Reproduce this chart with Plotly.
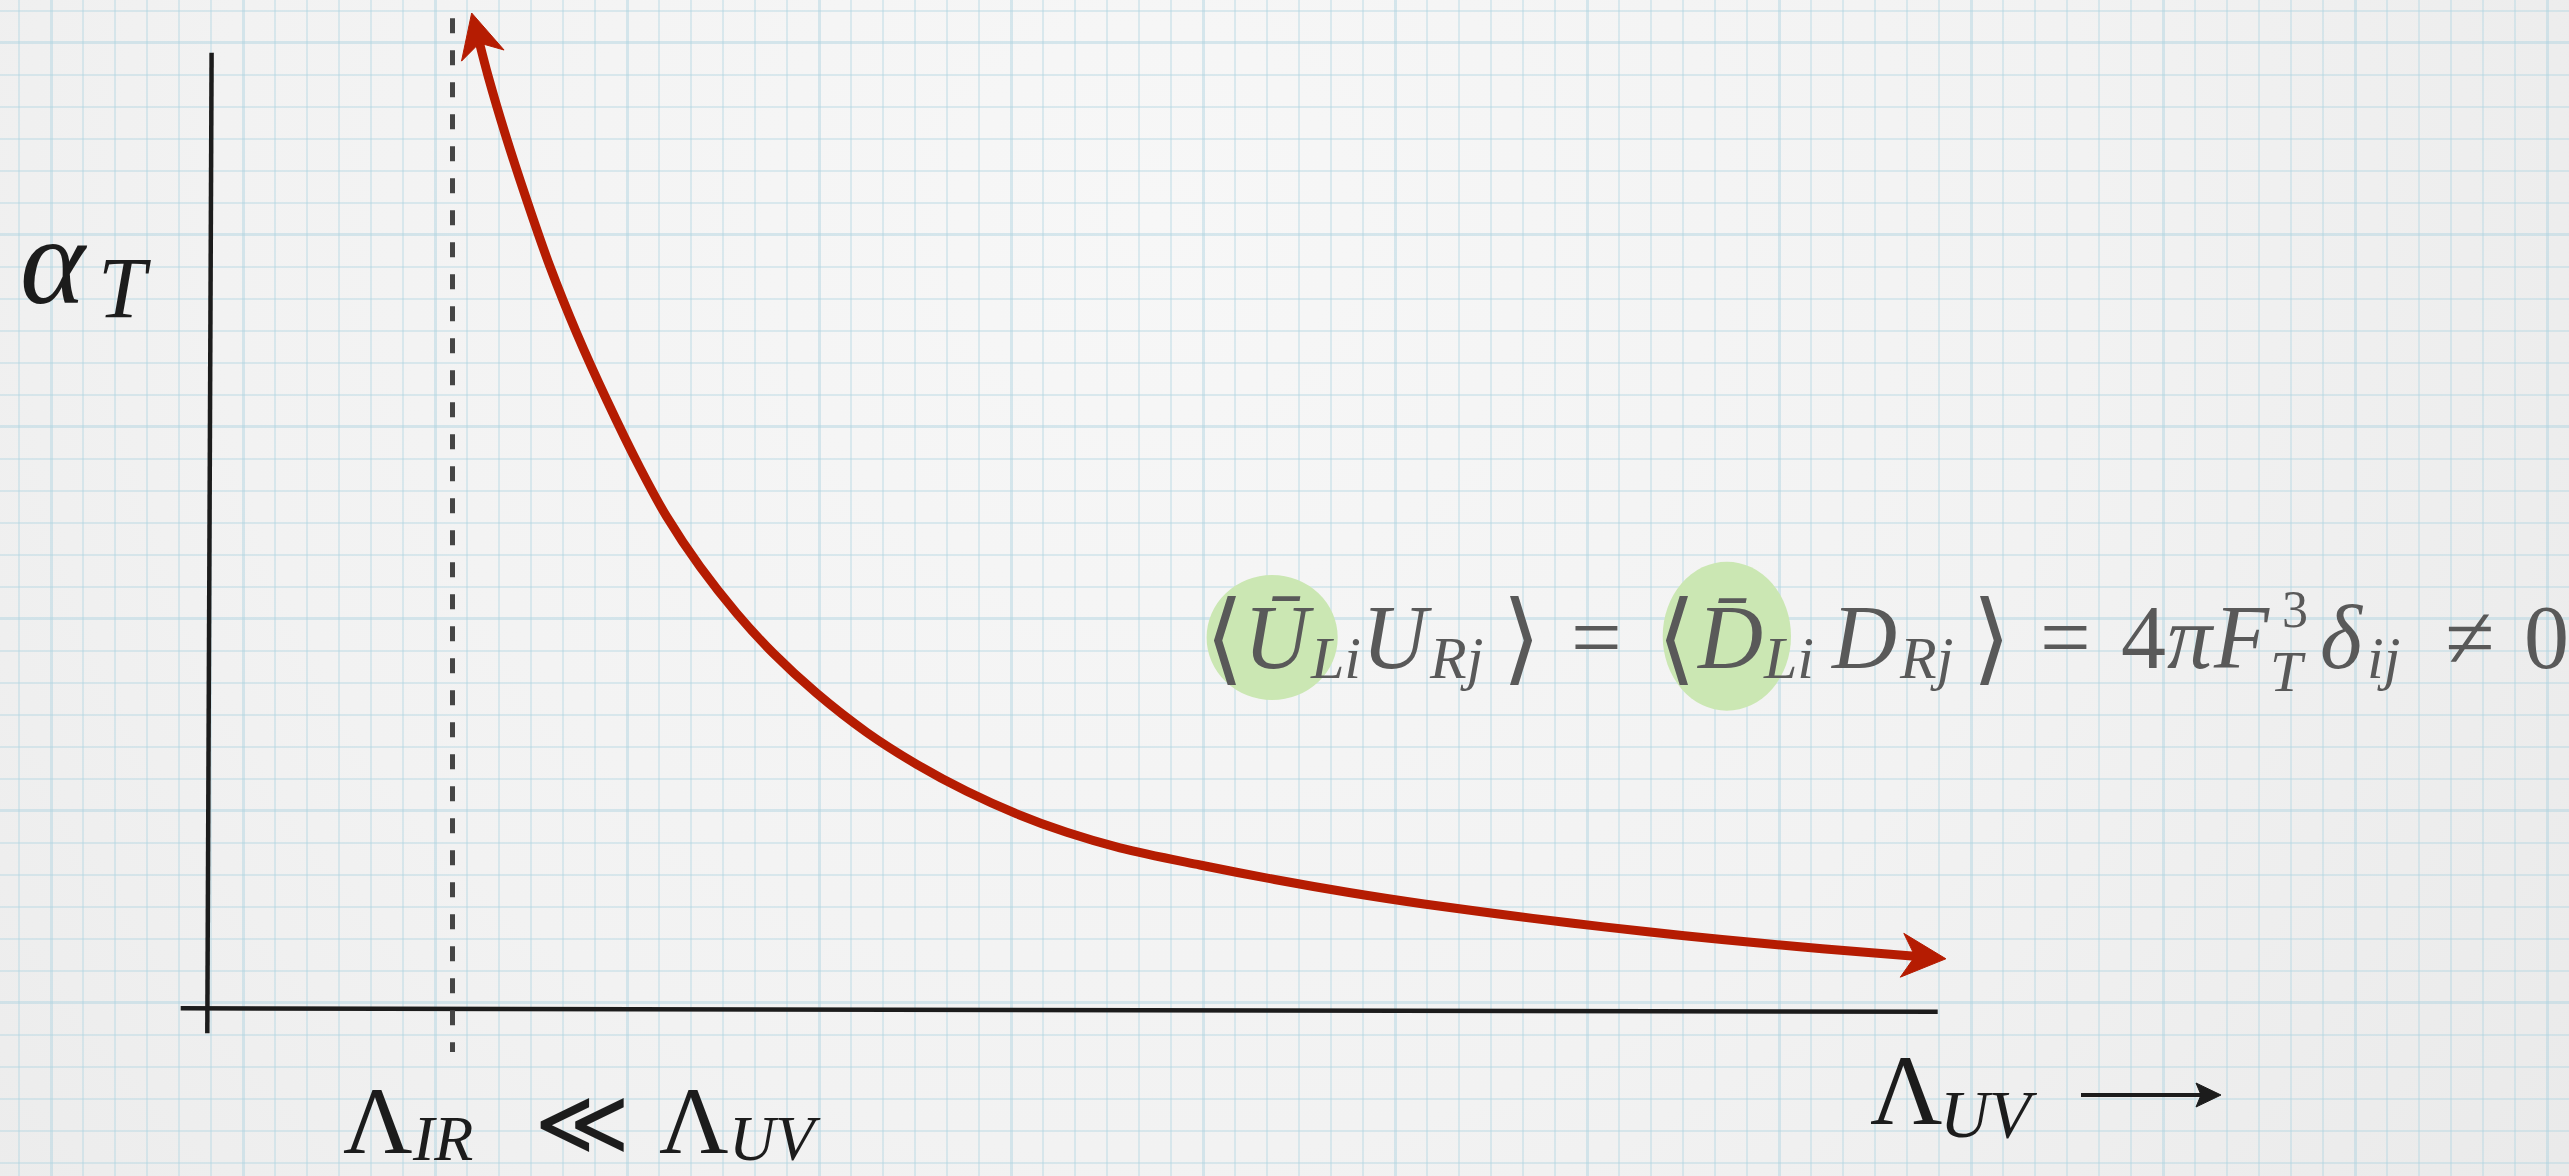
import base64
import math
import plotly.graph_objects as go

W, H = 2569, 1176

# Running coupling alpha_T versus the cutoff, in slide pixel units (x right, y down)
curve_x = [479.5, 488.3, 505.0, 526.7, 550.0, 576.7, 606.7, 640.0, 666.7, 700.0,
           736.7, 773.3, 816.7, 866.7, 916.7, 966.7, 1016.7, 1066.7, 1120.0, 1200.0,
           1274.6, 1349.0, 1424.0, 1498.5, 1573.0, 1647.8, 1722.0, 1797.0, 1871.6, 1915.0]
curve_y = [43.0, 76.7, 133.3, 200.0, 266.7, 333.3, 400.0, 468.0, 516.7, 566.7,
           613.3, 653.3, 693.3, 732.3, 764.3, 791.3, 813.8, 832.3, 847.8, 865.0,
           879.5, 892.5, 904.0, 914.0, 923.3, 931.8, 939.5, 946.5, 952.8, 956.3]

# Hand-drawn axes and the IR cutoff marker
y_axis_x = [211.6, 207.3]
y_axis_y = [52.7, 1033.3]
x_axis_x = [180.7, 1937.7]
x_axis_y = [1008.3, 1011.7]
ir_line_x = [452.5, 452.5]
ir_line_y = [18.3, 1052.0]

# Direction arrow next to the Lambda_UV label
uv_arrow_x = [2081.0, 2221.0]
uv_arrow_y = [1095.0, 1095.0]

RED = "#b51c02"
INK = "#1c1c1c"
GRAY = "#595959"
GREEN = "#cbe7b3"
SERIF = "Liberation Serif, Times New Roman, serif"
MATH = "DejaVu Serif, serif"


def arrow_head(x_from, y_from, x_notch, y_notch, length=44, half=22, depth=31):
    """Notched arrowhead whose notch sits on the end of a stroke."""
    dx, dy = x_notch - x_from, y_notch - y_from
    n = math.hypot(dx, dy)
    ux, uy = dx / n, dy / n
    px, py = -uy, ux
    tx, ty = x_notch + depth * ux, y_notch + depth * uy
    bx, by = tx - length * ux, ty - length * uy
    xs = [tx, bx + half * px, x_notch, bx - half * px, tx]
    ys = [ty, by + half * py, y_notch, by - half * py, ty]
    return xs, ys


fig = go.Figure()

# axes
fig.add_trace(go.Scatter(x=y_axis_x, y=y_axis_y, mode="lines",
                         line=dict(color=INK, width=4.5), hoverinfo="skip"))
fig.add_trace(go.Scatter(x=x_axis_x, y=x_axis_y, mode="lines",
                         line=dict(color=INK, width=4.5), hoverinfo="skip"))
# IR scale (dashed)
fig.add_trace(go.Scatter(x=ir_line_x, y=ir_line_y, mode="lines",
                         line=dict(color="#454545", width=5, dash="15px,17px"),
                         hoverinfo="skip"))

# the running curve and its two arrowheads
fig.add_trace(go.Scatter(x=curve_x, y=curve_y, mode="lines",
                         line=dict(color=RED, width=9, shape="spline", smoothing=1.0),
                         hoverinfo="skip"))
hx, hy = arrow_head(curve_x[1], curve_y[1], curve_x[0], curve_y[0])
fig.add_trace(go.Scatter(x=hx, y=hy, mode="lines", fill="toself", fillcolor=RED,
                         line=dict(color=RED, width=1), hoverinfo="skip"))
hx, hy = arrow_head(curve_x[-2], curve_y[-2], curve_x[-1], curve_y[-1])
fig.add_trace(go.Scatter(x=hx, y=hy, mode="lines", fill="toself", fillcolor=RED,
                         line=dict(color=RED, width=1), hoverinfo="skip"))

# small black arrow after Lambda_UV
fig.add_trace(go.Scatter(x=[uv_arrow_x[0], uv_arrow_x[1] - 20], y=uv_arrow_y, mode="lines",
                         line=dict(color=INK, width=4), hoverinfo="skip"))
hx, hy = arrow_head(uv_arrow_x[0], uv_arrow_y[0], uv_arrow_x[1] - 20, uv_arrow_y[1],
                    length=25, half=12, depth=20)
fig.add_trace(go.Scatter(x=hx, y=hy, mode="lines", fill="toself", fillcolor=INK,
                         line=dict(color=INK, width=1), hoverinfo="skip"))

# green highlight blobs behind the barred fields
shapes = [
    dict(type="circle", xref="x", yref="y", x0=1206.6, x1=1337.7, y0=575, y1=700,
         fillcolor=GREEN, line=dict(width=0), layer="between"),
    dict(type="circle", xref="x", yref="y", x0=1662.7, x1=1791.0, y0=561.7, y1=710.7,
         fillcolor=GREEN, line=dict(width=0), layer="between"),
]


def glyph(text, x, baseline, size, color=INK, xanchor="left", family=SERIF, italic=True):
    """Place a piece of math text so that its baseline sits at `baseline`."""
    shown = f"<i>{text}</i>" if italic else text
    return dict(text=shown, x=x, y=baseline - 0.31 * size, xref="x", yref="y",
                showarrow=False, xanchor=xanchor, yanchor="middle",
                font=dict(family=family, size=size, color=color))


annotations = [
    # vertical axis label alpha_T
    glyph("α", 18, 300, 124),
    glyph("T", 96, 315, 86),
    # Lambda_IR << Lambda_UV
    glyph("Λ", 341, 1150, 96, italic=False),
    glyph("IR", 410, 1158, 64),
    glyph("≪", 582, 1151, 92, xanchor="center", family=MATH, italic=False),
    glyph("Λ", 657, 1150, 96, italic=False),
    glyph("UV", 727, 1158, 64),
    # horizontal axis label
    glyph("Λ", 1868, 1121, 100, italic=False),
    glyph("UV", 1938, 1135, 68),
    # condensate relation
    glyph("⟨", 1203, 668, 100, GRAY, family=MATH, italic=False),
    glyph("Ū", 1242, 665, 90, GRAY),
    glyph("Li", 1308, 677, 60, GRAY),
    glyph("U", 1360, 665, 90, GRAY),
    glyph("Rj", 1427, 677, 60, GRAY),
    glyph("⟩", 1500, 668, 100, GRAY, family=MATH, italic=False),
    glyph("=", 1596, 665, 90, GRAY, xanchor="center", italic=False),
    glyph("⟨", 1655, 668, 100, GRAY, family=MATH, italic=False),
    glyph("D̄", 1694, 665, 90, GRAY),
    glyph("Li", 1761, 677, 60, GRAY),
    glyph("D", 1828, 665, 90, GRAY),
    glyph("Rj", 1897, 677, 60, GRAY),
    glyph("⟩", 1970, 668, 100, GRAY, family=MATH, italic=False),
    glyph("=", 2065, 665, 90, GRAY, xanchor="center", italic=False),
    glyph("4", 2119, 665, 90, GRAY, italic=False),
    glyph("π", 2165, 665, 90, GRAY),
    glyph("F", 2211, 665, 90, GRAY),
    glyph("3", 2280, 626, 52, GRAY, italic=False),
    glyph("T", 2268, 689, 58, GRAY),
    glyph("δ", 2318, 665, 90, GRAY),
    glyph("ij", 2365, 677, 60, GRAY),
    glyph("≠", 2469, 665, 90, GRAY, xanchor="center", italic=False),
    glyph("0", 2522, 665, 90, GRAY, italic=False),
]

# soft paper shading
svg = f"""<svg xmlns='http://www.w3.org/2000/svg' width='{W}' height='{H}'>
<defs><radialGradient id='g' cx='1150' cy='220' r='1700' gradientUnits='userSpaceOnUse'>
<stop offset='0' stop-color='#f7f7f7'/><stop offset='0.55' stop-color='#f2f2f2'/>
<stop offset='1' stop-color='#eaeaea'/></radialGradient></defs>
<rect width='{W}' height='{H}' fill='url(#g)'/></svg>"""
bg_src = "data:image/svg+xml;base64," + base64.b64encode(svg.encode()).decode()

grid_minor = "rgba(175,212,226,0.4)"
grid_major = "rgba(172,210,225,0.45)"

fig.update_layout(
    width=W, height=H,
    margin=dict(l=0, r=0, t=0, b=0),
    paper_bgcolor="#f1f1f1",
    plot_bgcolor="rgba(0,0,0,0)",
    showlegend=False,
    shapes=shapes,
    annotations=annotations,
    images=[dict(source=bg_src, xref="paper", yref="paper", x=0, y=1,
                 sizex=1, sizey=1, sizing="stretch", xanchor="left", yanchor="top",
                 layer="below")],
    xaxis=dict(range=[0, W], showticklabels=False, ticks="", zeroline=False,
               showline=False, showgrid=True, gridcolor=grid_major, gridwidth=3,
               tick0=51.3, dtick=192,
               minor=dict(tick0=19.3, dtick=32, showgrid=True,
                          gridcolor=grid_minor, gridwidth=2, ticks="")),
    yaxis=dict(range=[H, 0], showticklabels=False, ticks="", zeroline=False,
               showline=False, showgrid=True, gridcolor=grid_major, gridwidth=3,
               tick0=42.7, dtick=192,
               minor=dict(tick0=10.7, dtick=32, showgrid=True,
                          gridcolor=grid_minor, gridwidth=2, ticks="")),
)

fig.write_html("out.html", config={"displayModeBar": False})
